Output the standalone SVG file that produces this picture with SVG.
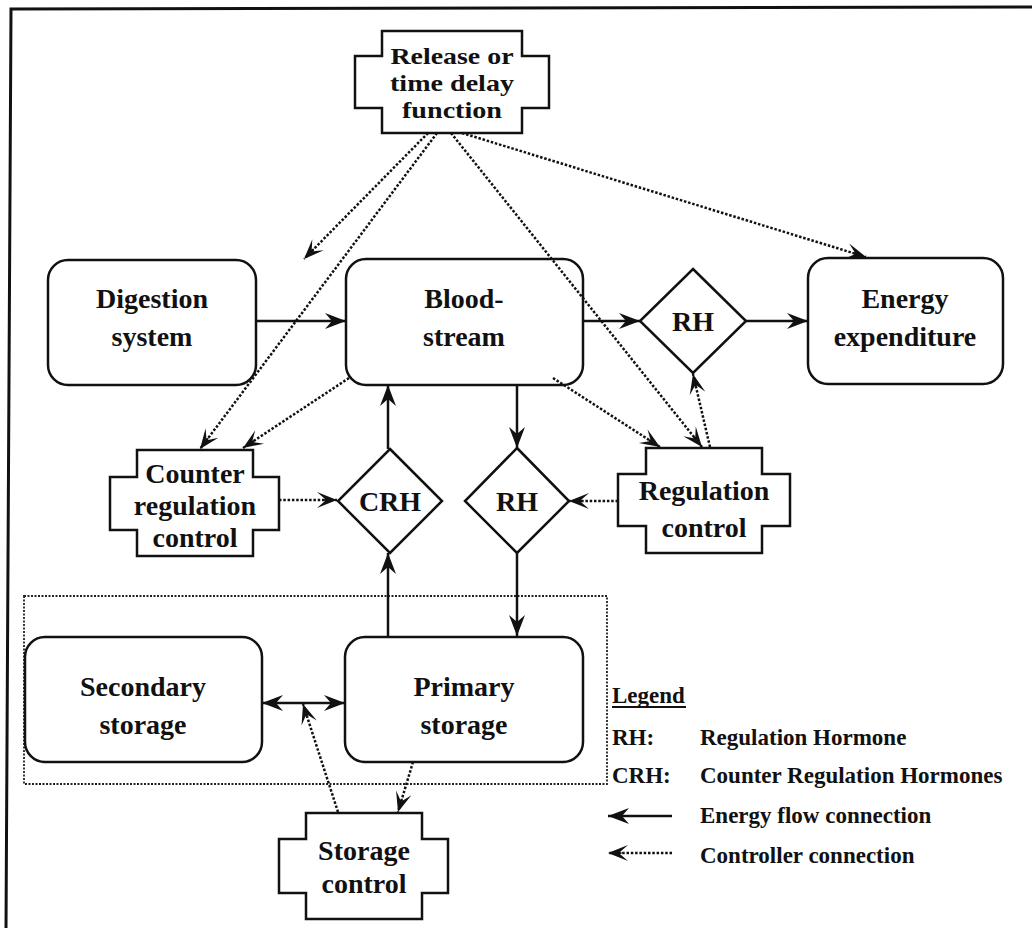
<svg xmlns="http://www.w3.org/2000/svg" width="1032" height="928" viewBox="0 0 1032 928">
<style>
text{font-family:"Liberation Serif","Times New Roman",serif;font-weight:bold;fill:#111;}
.n{font-size:28px;text-anchor:middle;}
.r{font-size:24px;text-anchor:middle;}
.lg{font-size:23px;}
.box{fill:#fff;stroke:#111;stroke-width:2.5;}
.e{fill:none;stroke:#111;stroke-width:2.5;marker-end:url(#ah);}
.c{fill:none;stroke:#111;stroke-width:2.5;stroke-dasharray:2.5 1.8;marker-end:url(#ch);}
</style>
<defs>
<marker id="ah" viewBox="-22 -10 24 20" refX="0" refY="0" markerWidth="24" markerHeight="20" markerUnits="userSpaceOnUse" orient="auto-start-reverse">
<path d="M0,0 L-21,-8 L-14,0 L-21,8 z" fill="#111"/>
</marker>
<marker id="ch" viewBox="-22 -10 24 20" refX="0" refY="0" markerWidth="24" markerHeight="20" markerUnits="userSpaceOnUse" orient="auto">
<path d="M0,0 L-20,-8 L-12,-1 L-15,0 L-12,1 L-20,8 z" fill="#111"/>
</marker>
</defs>
<path d="M6,928 L11,9 L1032,7" fill="none" stroke="#111" stroke-width="3"/>
<rect x="24" y="596" width="583" height="188" fill="none" stroke="#222" stroke-width="1.8" stroke-dasharray="2 1.5"/>

<g id="release">
<path class="box" d="M382,31 H522 V56 H549 V108 H522 V133 H382 V108 H355 V56 H382 Z"/>
<text class="r" x="452" y="64" textLength="123" lengthAdjust="spacingAndGlyphs">Release or</text>
<text class="r" x="452" y="91" textLength="124" lengthAdjust="spacingAndGlyphs">time delay</text>
<text class="r" x="452" y="118" textLength="100" lengthAdjust="spacingAndGlyphs">function</text>
</g>
<g id="digestion">
<rect class="box" x="48" y="260" width="208" height="125" rx="20"/>
<text class="n" x="152" y="308">Digestion</text>
<text class="n" x="152" y="346">system</text>
</g>
<g id="bloodstream">
<rect class="box" x="346" y="259" width="237" height="126" rx="20"/>
<text class="n" x="464" y="308">Blood-</text>
<text class="n" x="464" y="346">stream</text>
</g>
<g id="energy">
<rect class="box" x="808" y="258" width="195" height="126" rx="20"/>
<text class="n" x="905" y="308">Energy</text>
<text class="n" x="905" y="346">expenditure</text>
</g>
<g id="rh-top">
<path class="box" d="M693,269 L746,321 L693,373 L640,321 Z"/>
<text class="n" x="693" y="331">RH</text>
</g>
<g id="counter">
<path class="box" d="M137,450 H253 V477 H279 V530 H253 V556 H137 V530 H110 V477 H137 Z"/>
<text class="n" x="195" y="483">Counter</text>
<text class="n" x="195" y="515">regulation</text>
<text class="n" x="195" y="547">control</text>
</g>
<g id="crh">
<path class="box" d="M390,449 L442,501 L390,553 L338,501 Z"/>
<text class="n" x="390" y="511">CRH</text>
</g>
<g id="rh-mid">
<path class="box" d="M517,448 L569,501 L517,553 L465,501 Z"/>
<text class="n" x="517" y="511">RH</text>
</g>
<g id="regulation">
<path class="box" d="M646,448 H762 V474 H790 V526 H762 V553 H646 V526 H618 V474 H646 Z"/>
<text class="n" x="704" y="500">Regulation</text>
<text class="n" x="704" y="537">control</text>
</g>
<g id="secondary">
<rect class="box" x="25" y="637" width="237" height="125" rx="20"/>
<text class="n" x="143" y="696">Secondary</text>
<text class="n" x="143" y="734">storage</text>
</g>
<g id="primary">
<rect class="box" x="345" y="637" width="238" height="125" rx="20"/>
<text class="n" x="464" y="696">Primary</text>
<text class="n" x="464" y="734">storage</text>
</g>
<g id="storage-control">
<path class="box" d="M306,813 H422 V839 H448 V893 H422 V919 H306 V893 H279 V839 H306 Z"/>
<text class="n" x="364" y="860">Storage</text>
<text class="n" x="364" y="893">control</text>
</g>

<g id="connectors">
<line class="e" x1="256" y1="321" x2="346" y2="321"/>
<line class="e" x1="583" y1="321" x2="640" y2="321"/>
<line class="e" x1="746" y1="321" x2="808" y2="321"/>
<line class="e" x1="517" y1="385" x2="517" y2="448"/>
<line class="e" x1="517" y1="553" x2="517" y2="636"/>
<line class="e" x1="388" y1="636" x2="388" y2="553"/>
<line class="e" x1="388" y1="449" x2="388" y2="385"/>
<line class="e" x1="262" y1="703" x2="345" y2="703" style="marker-start:url(#ah)"/>
<line class="c" x1="428" y1="133" x2="304" y2="259"/>
<line class="c" x1="437" y1="133" x2="200" y2="449"/>
<line class="c" x1="451" y1="133" x2="702" y2="447"/>
<line class="c" x1="462" y1="133" x2="866" y2="257"/>
<line class="c" x1="349" y1="378" x2="243" y2="448"/>
<line class="c" x1="553" y1="378" x2="660" y2="447"/>
<line class="c" x1="710" y1="447" x2="693" y2="374"/>
<line class="c" x1="279" y1="500" x2="337" y2="500"/>
<line class="c" x1="618" y1="501" x2="569" y2="501"/>
<line class="c" x1="338" y1="812" x2="303" y2="704"/>
<line class="c" x1="413" y1="762" x2="398" y2="812"/>
</g>

<g id="legend">
<text class="lg" x="612" y="703">Legend</text>
<line x1="612" y1="707" x2="686" y2="707" stroke="#111" stroke-width="2"/>
<text class="lg" x="612" y="745">RH:</text>
<text class="lg" x="700" y="745">Regulation Hormone</text>
<text class="lg" x="612" y="783">CRH:</text>
<text class="lg" x="700" y="783">Counter Regulation Hormones</text>
<line x1="672" y1="816" x2="608" y2="816" stroke="#111" stroke-width="2.5" marker-end="url(#ah)"/>
<text class="lg" x="700" y="823">Energy flow connection</text>
<line x1="672" y1="853" x2="608" y2="853" stroke="#111" stroke-width="2.5" stroke-dasharray="2.5 1.8" marker-end="url(#ch)"/>
<text class="lg" x="700" y="863">Controller connection</text>
</g>
</svg>
